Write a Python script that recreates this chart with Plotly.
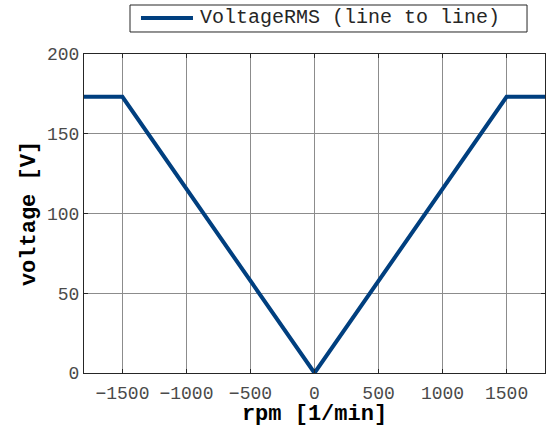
import plotly.graph_objects as go

rpm = [-1800, -1500, 0, 1500, 1800]
voltage = [173.2, 173.2, 0, 173.2, 173.2]
series_name = "VoltageRMS (line to line)"
x_ticks = [-1500, -1000, -500, 0, 500, 1000, 1500]
y_ticks = [0, 50, 100, 150, 200]

FONT = "Courier New, Courier, Nimbus Mono PS, FreeMono, Liberation Mono, monospace"
LINE_COLOR = "#003f7f"

fig = go.Figure()
fig.add_trace(go.Scatter(x=rpm, y=voltage, mode="lines", name=series_name,
                         line=dict(color=LINE_COLOR, width=4), showlegend=False))

axis_common = dict(showline=True, linecolor="#262626", linewidth=1, mirror="ticks",
                   ticks="inside", ticklen=4, tickcolor="#262626",
                   showgrid=True, gridcolor="#8c8c8c", gridwidth=1, zeroline=False,
                   tickfont=dict(family=FONT, size=18, color="#4a4a4a"))

# custom legend (box, sample line, label)
fig.add_shape(type="rect", xref="paper", yref="paper", x0=0.0998, x1=0.961, y0=1.069, y1=1.1536,
              line=dict(color="#262626", width=1), fillcolor="white", layer="above")
fig.add_shape(type="line", xref="paper", yref="paper", x0=0.1236, x1=0.2364, y0=1.1129, y1=1.1129,
              line=dict(color=LINE_COLOR, width=4))
fig.add_annotation(text=series_name, xref="paper", yref="paper", x=0.2473, y=1.1129,
                   xanchor="left", yanchor="middle", showarrow=False,
                   font=dict(family=FONT, size=20, color="#262626"))

fig.update_layout(
    width=546, height=427,
    margin=dict(l=84, r=1, t=54, b=54),
    paper_bgcolor="white", plot_bgcolor="white",
    showlegend=False,
    xaxis=dict(range=[-1800, 1800], tickvals=x_ticks, ticklabelstandoff=3,
               title=dict(text="<b>rpm [1/min]</b>", font=dict(family=FONT, size=22, color="black"), standoff=2),
               **axis_common),
    yaxis=dict(range=[0, 200], tickvals=y_ticks,
               title=dict(text="<b>voltage [V]</b>", font=dict(family=FONT, size=22, color="black"), standoff=5),
               **axis_common),
)
fig.write_html("out.html")
